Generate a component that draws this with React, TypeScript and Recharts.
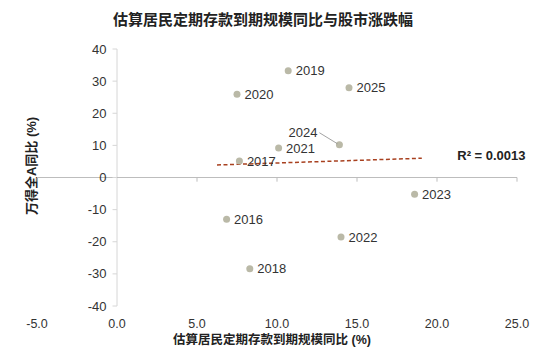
import React from 'react';
import { ScatterChart, Scatter, XAxis, YAxis, ReferenceLine, ReferenceDot } from 'recharts';

const years = ['2016', '2017', '2018', '2019', '2020', '2021', '2022', '2023', '2024', '2025'];
const depositYoY = [6.85, 7.65, 8.3, 10.7, 7.5, 10.1, 14.0, 18.6, 13.9, 14.5];
const stockYoY = [-13.0, 5.1, -28.4, 33.2, 25.9, 9.2, -18.5, -5.2, 10.2, 27.9];

const xTicks = [-5, 0, 5, 10, 15, 20, 25];
const yTicks = [40, 30, 20, 10, 0, -10, -20, -30, -40];

const trendX = [6.25, 19.05];
const trendY = [3.9, 6.0];
const r2Label = 'R² = 0.0013';
const r2Pos = { x: 23.4, y: 7.0 };

const title = '估算居民定期存款到期规模同比与股市涨跌幅';
const xTitle = '估算居民定期存款到期规模同比 (%)';
const yTitle = '万得全A同比 (%)';

const data = years.map((year, i) => ({ year, x: depositYoY[i], y: stockYoY[i] }));

const FONT = '"Liberation Sans", Arial, "Noto Sans CJK SC", sans-serif';
const CJK = '"Liberation Sans", Arial, "Noto Sans CJK SC", sans-serif';

const PointShape = (props: any) => {
  const { cx, cy, payload } = props;
  const isLeft = payload.year === '2024';
  return (
    <g>
      <circle cx={cx} cy={cy} r={3.5} fill="#bab9a7" />
      {isLeft ? (
        <>
          <line x1={cx - 20} y1={cy - 12} x2={cx - 2} y2={cy - 1} stroke="#8c8c8c" strokeWidth={0.8} />
          <text x={cx - 22} y={cy - 7.5} textAnchor="end" fontSize={13} fill="#333" fontFamily={FONT}>
            {payload.year}
          </text>
        </>
      ) : (
        <text x={cx + 7.5} y={cy + 4.6} textAnchor="start" fontSize={13} fill="#333" fontFamily={FONT}>
          {payload.year}
        </text>
      )}
    </g>
  );
};

export default function App() {
  return (
    <div style={{ position: 'absolute', left: 0, top: 0, width: 550, height: 354, background: '#fff', fontFamily: FONT }}>
      <div
        style={{
          position: 'absolute',
          left: 63,
          width: 400,
          top: 10,
          textAlign: 'center',
          fontSize: 15,
          fontWeight: 'bold',
          color: '#222',
          fontFamily: CJK,
          lineHeight: '20px',
        }}
      >
        {title}
      </div>
      <div
        style={{
          position: 'absolute',
          left: 172,
          width: 200,
          top: 331,
          textAlign: 'center',
          fontSize: 12.5,
          fontWeight: 'bold',
          color: '#222',
          fontFamily: CJK,
          lineHeight: '18px',
          whiteSpace: 'nowrap',
        }}
      >
        {xTitle}
      </div>
      <div
        style={{
          position: 'absolute',
          left: 32 - 70,
          width: 140,
          top: 166 - 9,
          textAlign: 'center',
          fontSize: 13,
          fontWeight: 'bold',
          color: '#222',
          fontFamily: CJK,
          lineHeight: '18px',
          transform: 'rotate(-90deg)',
          whiteSpace: 'nowrap',
        }}
      >
        {yTitle}
      </div>
      <ScatterChart width={550} height={354} margin={{ top: 49, right: 33, bottom: 18, left: 37 }}>
        <XAxis
          type="number"
          dataKey="x"
          domain={[-5, 25]}
          ticks={xTicks}
          allowDataOverflow
          axisLine={false}
          tickLine={false}
          tickSize={0}
          tickMargin={13}
          height={30}
          interval={0}
          tickFormatter={(v: number) => v.toFixed(1)}
          tick={{ fontSize: 12.5, fill: '#333', fontFamily: FONT }}
        />
        <YAxis type="number" dataKey="y" domain={[-40, 40]} ticks={yTicks} hide width={0} allowDataOverflow />
        <ReferenceLine x={0} stroke="#d6d6d6" strokeWidth={1} />
        <ReferenceLine y={0} stroke="#bdbdbd" strokeWidth={1} />
        {yTicks.map((v) => (
          <ReferenceLine
            key={'yt' + v}
            segment={[
              { x: -0.28, y: v },
              { x: 0, y: v },
            ]}
            stroke="#d6d6d6"
            label={{ value: String(v), position: 'left', offset: 6, fontSize: 13, fill: '#333', fontFamily: FONT }}
          />
        ))}
        {xTicks
          .filter((v) => v !== 0)
          .map((v) => (
            <ReferenceLine
              key={'xt' + v}
              segment={[
                { x: v, y: 0 },
                { x: v, y: -1.3 },
              ]}
              stroke="#bdbdbd"
            />
          ))}
        <ReferenceLine
          segment={[
            { x: trendX[0], y: trendY[0] },
            { x: trendX[1], y: trendY[1] },
          ]}
          stroke="#a8401f"
          strokeWidth={1.5}
          strokeDasharray="4 2.5"
        />
        <ReferenceDot
          x={r2Pos.x}
          y={r2Pos.y}
          r={0}
          fill="none"
          stroke="none"
          label={{ value: r2Label, position: 'center', fontSize: 13, fontWeight: 'bold', fill: '#222', fontFamily: FONT }}
        />
        <Scatter data={data} isAnimationActive={false} shape={PointShape} />
      </ScatterChart>
    </div>
  );
}
